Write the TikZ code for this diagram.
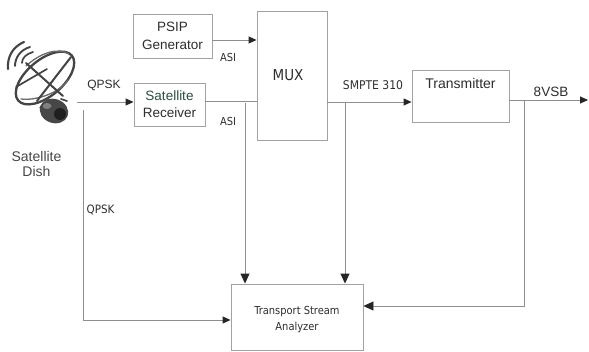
\documentclass[tikz,border=0pt]{standalone}
\usepackage{fontspec}
\setmainfont{Liberation Sans}
\newfontfamily\condfont{DejaVu Sans Condensed}
\usetikzlibrary{arrows.meta}

\definecolor{linegray}{HTML}{8E8E8E}
\definecolor{boxgray}{HTML}{A2A2A2}
\definecolor{ink}{HTML}{2E2E2E}
\definecolor{dishink}{HTML}{444444}
\definecolor{rxgreen}{HTML}{2F4C3E}

\begin{document}
\begin{tikzpicture}[x=1pt,y=-1pt,
  blk/.style={draw=boxgray, line width=0.9pt, inner sep=0pt, align=center, text=ink},
  wire/.style={draw=linegray, line width=0.9pt},
  arr/.style={wire, -{Triangle[length=8pt,width=7pt,color=black!85]}},
  bigarr/.style={wire, -{Triangle[length=10pt,width=9pt,color=black!85]}},
  sanslbl/.style={font=\fontsize{13.5}{17}\selectfont, text=ink, align=center, inner sep=0pt},
  condlbl/.style={font=\condfont\fontsize{11}{13}\selectfont, text=ink, inner sep=0pt},
]
\useasboundingbox (0,0) rectangle (589,351);
\fill[white] (0,0) rectangle (589,351);

% ---- blocks ----
\node[blk, minimum width=79pt, minimum height=44pt,
      font=\fontsize{13.5}{17.5}\selectfont] (psip) at (172.5,36) {PSIP\\Generator};
\node[blk, minimum width=71pt, minimum height=43pt,
      font=\fontsize{13.5}{17}\selectfont] (rx) at (169.5,104.5)
      {\textcolor{rxgreen}{Satellite}\\Receiver};
\node[blk, minimum width=70pt, minimum height=129pt,
      font=\condfont\fontsize{15}{17}\selectfont] (mux) at (292,75.5) {MUX\hspace*{8pt}};
\node[blk, minimum width=97pt, minimum height=52pt] (tx) at (460.5,96) {};
\node[sanslbl, font=\fontsize{14}{17}\selectfont] (txlbl) at (460.5,83) {Transmitter};
\node[blk, minimum width=132pt, minimum height=66pt] (an) at (297,317) {};
\node[condlbl, align=center, font=\condfont\fontsize{11}{16}\selectfont] (anlbl) at (297,320)
      {Transport Stream\\Analyzer};

% ---- satellite dish ----
\begin{scope}[draw=dishink, line cap=round, line join=round]
  % radiated waves
  \draw[line width=2.1pt] (8,69) .. controls (7,58) and (12,47) .. (24,42);
  \draw[line width=1.9pt] (15,66) .. controls (15,58) and (20,50) .. (30,47);
  \draw[line width=1.7pt] (22,63) .. controls (22,58) and (26,54) .. (33,52);
  % reflector rim, drawn with a second sketchy stroke
  \draw[line width=2.3pt, rotate around={40:(45,78)}] (45,78) ellipse [x radius=35pt, y radius=18pt];
  \draw[line width=1.3pt, draw=dishink!80] (26,66) .. controls (40,53) and (58,47) .. (69,54);
  \draw[line width=1.3pt, draw=dishink!80] (21,99) .. controls (38,101) and (60,92) .. (68,80);
  % feed struts
  \draw[line width=2pt] (26,63) -- (63,96);
  \draw[line width=2pt] (71,57) -- (37,101);
  \draw[line width=1.7pt] (16,87) -- (47,69);
  % mount
  \fill[black!72, rotate around={-20:(54,111)}] (54,111) ellipse [x radius=14.5pt, y radius=12pt];
  \fill[black!50] (47,106) ellipse [x radius=4.5pt, y radius=3pt];
  \fill[black!88] (60,114) ellipse [x radius=6pt, y radius=6pt];
  \draw[line width=1.6pt] (61,99) -- (67,101);
  \draw[line width=1.4pt] (40,108) -- (43,104);
\end{scope}
\node[sanslbl, font=\fontsize{14}{15}\selectfont, text=black!72] (dishlbl) at (36.5,163.5) {Satellite\\Dish};

% ---- connectors ----
\coordinate (dishout) at (77,102);
\draw[arr] (dishout) -- (dishout -| rx.west);
\node[sanslbl, font=\fontsize{12}{14}\selectfont] (q1) at (104,85) {QPSK};

\coordinate (tap) at (83,110);
\draw[arr] (tap) |- ([yshift=-3pt]an.west);
\node[condlbl, font=\condfont\fontsize{11.5}{13}\selectfont] (q2) at (100.5,210) {QPSK};

\coordinate (p1) at ([yshift=-4pt]psip.east);
\draw[arr] (p1) -- (p1 -| mux.west);
\node[condlbl] (asi1) at (228,57) {ASI};

\coordinate (r1) at ([yshift=3.5pt]rx.east);
\draw[wire] (r1) -- (r1 -| mux.west);
\node[condlbl] (asi2) at (228,121) {ASI};
\coordinate (b1) at (245,103);
\draw[bigarr] (b1) -- (b1 |- an.north);

\coordinate (m1) at ([yshift=-6pt]tx.west);
\draw[arr] (m1 -| mux.east) -- (m1);
\node[condlbl, font=\condfont\fontsize{12}{14}\selectfont] (smpte) at (373,85) {SMPTE 310};
\coordinate (b2) at (345,102);
\draw[bigarr] (b2) -- (b2 |- an.north);

\coordinate (t1) at ([yshift=-4pt]tx.east);
\coordinate (out) at (588,100);
\draw[arr] (t1) -- (out);
\node[sanslbl, font=\fontsize{13.5}{15}\selectfont] (vsb) at (551,92) {8VSB};
\coordinate (b3) at (524,100);
\draw[bigarr] (b3) |- ([yshift=11pt]an.east);
\end{tikzpicture}
\end{document}
